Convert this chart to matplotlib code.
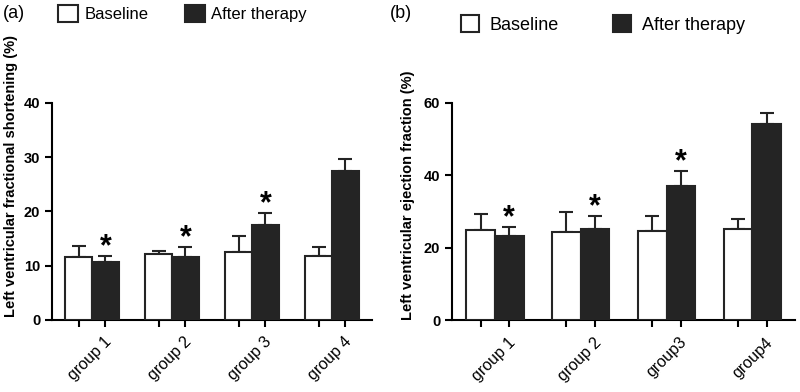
import matplotlib.pyplot as plt
import numpy as np
from matplotlib.patches import Patch

plt.rcParams['font.family'] = ['Liberation Sans', 'DejaVu Sans']

# Panel (a): fractional shortening (%)
groups_a = ['group 1', 'group 2', 'group 3', 'group 4']
base_fs = [11.7, 12.1, 12.5, 11.8]
base_fs_err = [1.9, 0.65, 2.9, 1.7]
after_fs = [10.6, 11.6, 17.5, 27.5]
after_fs_err = [1.25, 1.8, 2.3, 2.1]
sig_fs = [True, True, True, False]

# Panel (b): ejection fraction (%)
groups_b = ['group 1', 'group 2', 'group3', 'group4']
base_ef = [25.0, 24.4, 24.6, 25.1]
base_ef_err = [4.4, 5.4, 4.1, 2.9]
after_ef = [23.2, 25.3, 37.0, 54.2]
after_ef_err = [2.7, 3.6, 4.1, 3.0]
sig_ef = [True, True, True, False]

dark = '#242424'
w = 0.335


def panel(ax, groups, base, base_err, after, after_err, sig, ymax, ystep, ylabel):
    x = np.arange(len(groups))
    ax.bar(x - w / 2, base, w, color='white', edgecolor=dark, linewidth=1.5, zorder=3)
    ax.bar(x + w / 2, after, w, color=dark, edgecolor=dark, linewidth=1.5, zorder=3)
    z = np.zeros(len(groups))
    ax.errorbar(x - w / 2, base, yerr=[z, base_err], fmt='none', ecolor=dark,
                elinewidth=1.5, capsize=5, capthick=1.5, zorder=2)
    ax.errorbar(x + w / 2, after, yerr=[z, after_err], fmt='none', ecolor=dark,
                elinewidth=1.5, capsize=5, capthick=1.5, zorder=2)
    for xi, yi, ei, s in zip(x, after, after_err, sig):
        if s:
            ax.annotate('*', (xi + w / 2, yi + ei), xytext=(0, 0.5), textcoords='offset points',
                        ha='center', va='baseline', fontsize=22, fontweight='bold')

    ax.set_xlim(-0.5, 3.5)
    ax.set_ylim(0, ymax)
    ax.set_yticks(np.arange(0, ymax + 1, ystep))
    ax.set_xticks(np.concatenate([x - w / 2, x + w / 2]), [''] * (2 * len(groups)))
    ax.set_xticks(x + 0.21, groups, minor=True)
    ax.tick_params(axis='x', which='minor', length=0, pad=14, labelsize=11.5)
    ax.tick_params(axis='both', which='major', length=5, width=1.5)
    for lab in ax.get_xticklabels(minor=True):
        lab.set_rotation(45)
        lab.set_ha('right')
        lab.set_va('center')
        lab.set_rotation_mode('anchor')
    for lab in ax.get_yticklabels():
        lab.set_fontweight('bold')
        lab.set_fontsize(10.5)
    ax.spines['top'].set_visible(False)
    ax.spines['right'].set_visible(False)
    ax.spines['left'].set_linewidth(1.5)
    ax.spines['bottom'].set_linewidth(1.5)
    ax.set_ylabel(ylabel, fontsize=10.5, fontweight='bold')


fig = plt.figure(figsize=(8, 3.92), dpi=100)
ax1 = fig.add_axes([0.065, 0.1837, 0.40, 0.5536])
ax2 = fig.add_axes([0.565, 0.1824, 0.429, 0.5553])

panel(ax1, groups_a, base_fs, base_fs_err, after_fs, after_fs_err, sig_fs, 40, 10,
      'Left ventricular fractional shortening (%)')
panel(ax2, groups_b, base_ef, base_ef_err, after_ef, after_ef_err, sig_ef, 60, 20,
      'Left ventricular ejection fraction (%)')
ax1.yaxis.set_label_coords(-0.105, 0.665)
ax2.yaxis.set_label_coords(-0.107, 0.575)

handles = [Patch(facecolor='white', edgecolor=dark, linewidth=1.5, label='Baseline'),
           Patch(facecolor=dark, edgecolor=dark, linewidth=1.5, label='After therapy')]
fig.legend(handles=handles, loc='center left', bbox_to_anchor=(58 / 800, 1 - 13.5 / 392),
           ncol=2, frameon=False, fontsize=12, handlelength=1.2, handleheight=1.2,
           handletextpad=0.4, columnspacing=2.15, borderpad=0, borderaxespad=0)
fig.legend(handles=handles, loc='center left', bbox_to_anchor=(461 / 800, 1 - 24.5 / 392),
           ncol=2, frameon=False, fontsize=13, handlelength=1.0, handleheight=1.0,
           handletextpad=0.6, columnspacing=3.0, borderpad=0, borderaxespad=0)

fig.text(3 / 800, 1 - 13 / 392, '(a)', fontsize=13, va='center', ha='left')
fig.text(390 / 800, 1 - 13 / 392, '(b)', fontsize=13, va='center', ha='left')

fig.savefig('out.png', dpi=100)
